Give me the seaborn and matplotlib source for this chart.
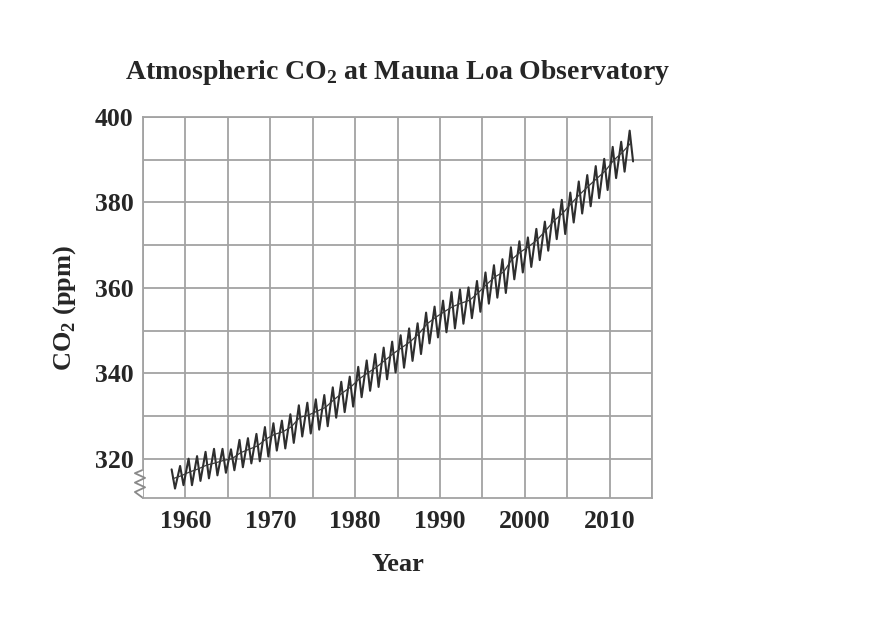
import numpy as np
import pandas as pd
import matplotlib
matplotlib.use("Agg")
import matplotlib.pyplot as plt
import matplotlib.transforms as mtransforms
import seaborn as sns

# годы наблюдений и сезонные максимумы (май) / минимумы (сентябрь-октябрь), ppm
years = list(range(1958, 2013))
may_peak = [317.5, 318.3, 320.0, 320.6, 321.6, 322.3, 322.3, 322.2, 324.4, 324.8,
            325.8, 327.4, 328.3, 328.9, 330.4, 332.5, 333.1, 333.9, 334.9, 336.7,
            338.0, 339.2, 341.5, 343.0, 344.5, 346.0, 347.4, 348.9, 350.5, 351.7,
            354.2, 355.6, 357.0, 359.0, 359.6, 360.1, 361.6, 363.6, 365.3, 366.7,
            369.5, 370.9, 371.8, 373.8, 375.5, 378.4, 380.6, 382.3, 384.9, 386.4,
            388.5, 390.2, 393.0, 394.2, 396.8]
fall_low = [313.0, 313.8, 313.8, 314.8, 315.4, 316.1, 316.7, 317.3, 318.0, 318.9,
            319.4, 320.5, 321.9, 322.4, 323.7, 325.2, 325.9, 326.8, 327.6, 329.6,
            330.9, 332.2, 334.4, 335.9, 336.8, 338.6, 340.2, 341.3, 342.9, 344.5,
            347.0, 348.4, 349.6, 350.5, 351.6, 352.9, 354.4, 356.3, 357.7, 358.8,
            362.0, 363.6, 364.9, 366.5, 368.7, 371.4, 372.6, 375.3, 377.4, 379.1,
            381.0, 382.9, 385.7, 387.2, 389.6]
# среднегодовые значения (линия тренда)
annual_mean = [315.3, 316.0, 316.9, 317.6, 318.5, 319.0, 319.6, 320.0, 321.4, 322.2,
               323.0, 324.6, 325.7, 326.3, 327.5, 329.7, 330.2, 331.1, 332.0, 333.8,
               335.4, 336.8, 338.7, 340.1, 341.4, 343.0, 344.6, 346.0, 347.4, 349.2,
               351.6, 353.1, 354.4, 355.6, 356.4, 357.1, 358.8, 360.8, 362.6, 363.7,
               366.7, 368.4, 369.7, 371.3, 373.5, 375.8, 377.5, 379.8, 381.9, 383.8,
               385.6, 387.4, 389.9, 391.7, 393.9]

x_ticks = [1960, 1970, 1980, 1990, 2000, 2010]
y_ticks = [320, 340, 360, 380, 400]

# собираем зигзаг: максимум в мае, минимум осенью
rows = []
for yr, hi, lo in zip(years, may_peak, fall_low):
    rows.append((yr + 0.37, hi))
    rows.append((yr + 0.77, lo))
df = pd.DataFrame(rows, columns=["year", "co2"])
trend = pd.DataFrame({"year": [y + 0.5 for y in years], "co2": annual_mean})

sns.set_style("white")
plt.rcParams["font.family"] = ["Liberation Serif", "DejaVu Serif"]
plt.rcParams["mathtext.fontset"] = "custom"
plt.rcParams["mathtext.rm"] = "Liberation Serif"
plt.rcParams["mathtext.bf"] = "Liberation Serif:bold"

fig = plt.figure(figsize=(8.7, 6.2), dpi=100)
ax = fig.add_axes([0.1644, 0.1968, 0.585, 0.6145])

sns.lineplot(data=df, x="year", y="co2", ax=ax, color="#2e2e2e", linewidth=1.5)
sns.lineplot(data=trend, x="year", y="co2", ax=ax, color="#3a3a3a", linewidth=0.9)

ax.set_xlim(1955, 2015)
ax.set_ylim(310.8, 400)
ax.set_xticks(x_ticks)
ax.set_yticks(y_ticks)
ax.set_xticks(np.arange(1955, 2016, 5), minor=True)
ax.set_yticks(np.arange(320, 401, 10), minor=True)
ax.grid(True, which="both", color="#a3a3a3", linewidth=1.3)
ax.set_axisbelow(True)
ax.tick_params(which="both", length=0, labelsize=18.5)
ax.tick_params(axis="x", pad=9)
ax.tick_params(axis="y", pad=7)
for lab in ax.get_xticklabels() + ax.get_yticklabels():
    lab.set_fontweight("bold")

for side in ["top", "right", "bottom", "left"]:
    ax.spines[side].set_color("#a3a3a3")
    ax.spines[side].set_linewidth(1.3)
ax.spines["left"].set_bounds(317.4, 400)

# значок разрыва оси
trans = mtransforms.blended_transform_factory(ax.transAxes, ax.transData)
ax.plot([0, -0.016, 0.004, -0.016, 0.004, -0.016, 0],
        [317.4, 316.6, 315.5, 314.4, 313.3, 312.2, 310.8],
        transform=trans, color="#8a8a8a", linewidth=1.3, clip_on=False)

ax.set_xlabel("Year", fontsize=19, fontweight="bold", labelpad=14)
ax.set_ylabel(r"CO$_\mathbf{2}$ (ppm)", fontsize=19, fontweight="bold", labelpad=12)
ax.set_title(r"Atmospheric CO$_\mathbf{2}$ at Mauna Loa Observatory",
             fontsize=20, fontweight="bold", pad=27)

plt.savefig("out.png", dpi=100)
